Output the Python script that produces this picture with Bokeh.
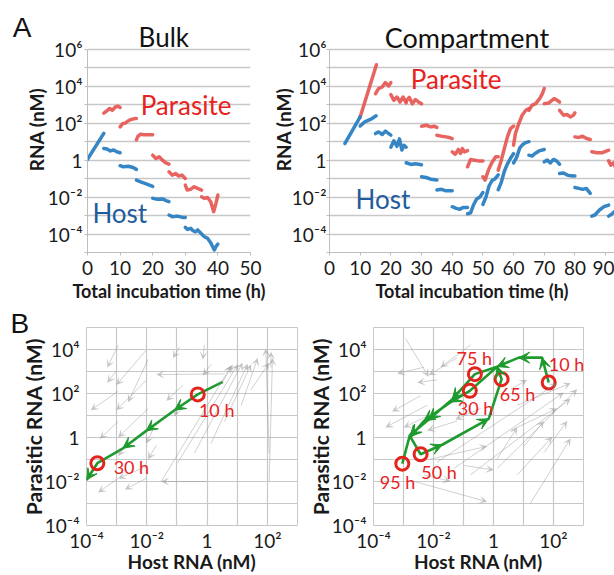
import math
from bokeh.plotting import figure
from bokeh.layouts import column, row
from bokeh.models import (Range1d, FixedTicker, CustomJSTickFormatter, Label, LogAxis,
                          Arrow, VeeHead, ColumnDataSource, Title)
from bokeh.embed import file_html
from bokeh.resources import INLINE

# ---------------------------------------------------------------- data
# Panel A (Bulk): time (h) and log10 RNA (nM), one list per transfer round
bulk_host_t = [[0, 5], [5, 6, 7, 8, 9, 10], [10, 11, 12.5, 14, 15], [15, 16.3, 17.8, 20],
               [20, 21.5, 23, 24.3, 25], [25, 26, 27.6, 29.1, 30],
               [30, 30.7, 31.7, 32.3, 33.2, 33.8, 34.8, 35.8, 36.8, 37.8, 38.9, 39.5, 40]]
bulk_host_log = [[0.05, 1.45], [0.63, 0.6, 0.5, 0.55, 0.45, 0.4], [-0.3, -0.36, -0.33, -0.4, -0.5],
                 [-1.08, -1.17, -1.27, -1.42], [-2.07, -2.12, -2.1, -2.2, -2.25],
                 [-2.97, -3.06, -3.03, -3.1, -3.1],
                 [-3.64, -3.75, -3.69, -3.82, -3.88, -3.78, -3.96, -4.14, -4.23, -4.47, -4.86, -4.65, -4.54]]
bulk_para_t = [[5, 5.8, 6.8, 7.6, 8.5, 9.4, 10], [10, 10.8, 11.7, 12.4, 13.3, 14.5, 15],
               [15, 15.5, 16.3, 17.3, 18.8, 20], [20, 21, 22, 23, 24, 25], [25, 26, 27, 28, 29, 30],
               [30, 30.6, 31.6, 32.7, 33.8, 35], [35, 35.8, 36.8, 37.8, 38.7, 39.4, 40]]
bulk_para_log = [[2.55, 2.65, 2.8, 2.7, 2.88, 2.92, 2.85], [1.8, 1.98, 2.02, 2.12, 2.2, 2.25, 2.25],
                 [1.1, 1.3, 1.4, 1.38, 1.38, 1.38], [0.27, 0.09, 0.18, 0.0, -0.15, -0.22],
                 [-0.63, -0.81, -0.72, -0.86, -0.81, -0.99], [-1.35, -1.62, -1.58, -1.44, -1.53, -1.62],
                 [-1.98, -2.07, -2.02, -2.25, -2.79, -2.34, -1.89]]

# Panel A (Compartment)
comp_host_t = [[5, 10], [10, 11.5, 13.5, 15.2], [15, 16, 17.2, 18.2, 19.3, 20],
               [20, 21, 22, 22.8, 23.6, 24.3, 25], [25, 26.5, 28, 30], [30, 31.5, 33, 35],
               [35, 36.5, 38, 40], [40, 41.3, 42.5, 43.5, 45], [45, 46, 47, 48, 49, 50],
               [50, 51, 52, 53, 54, 55], [55, 56, 57, 58, 59, 60], [60, 61, 62, 63, 64, 65],
               [65, 66, 67, 68.3, 70], [70, 71, 72, 73, 74, 75], [75, 76.3, 77.5, 78.7, 80],
               [80, 81.3, 82.5, 83.7, 85], [85.5, 86.5, 88, 89.5, 91], [91, 92.3, 94]]
comp_host_log = [[0.9, 2.34], [1.85, 2.07, 2.22, 2.4], [1.44, 1.53, 1.39, 1.57, 1.44, 1.35],
                 [0.7, 1.05, 0.75, 1.15, 0.55, 0.8, 0.7], [-0.14, -0.23, -0.2, -0.25],
                 [-0.9, -0.94, -1.03, -1.08], [-1.62, -1.58, -1.66, -1.66],
                 [-2.52, -2.61, -2.66, -2.56, -2.56], [-2.9, -2.85, -2.4, -2.1, -2.0, -1.75],
                 [-2.4, -2.0, -1.4, -1.1, -1.0, -0.8], [-1.6, -1.2, -0.6, -0.2, 0.1, 0.35],
                 [-0.15, 0.15, 0.65, 0.85, 0.95, 1.0], [0.27, 0.22, 0.36, 0.5, 0.58],
                 [-0.09, 0.0, -0.15, 0.04, -0.04, -0.22], [-0.72, -0.69, -0.81, -0.85, -0.86],
                 [-1.48, -1.53, -1.58, -1.53, -1.8], [-3.03, -2.97, -2.7, -2.52, -2.43],
                 [-3.03, -2.88, -2.61]]
comp_para_t = [[10, 15.3], [15, 16, 17.2, 18.2, 19.3, 20], [20, 21, 22, 23, 24, 25],
               [25, 26, 27, 28, 29, 30], [30, 31.5, 33, 34, 35], [35, 36.5, 38, 39, 40],
               [40, 41, 42, 42.7, 43.3, 44, 45], [45, 46, 47.3, 48.6, 50],
               [50, 50.7, 51.8, 52.9, 54.2, 55], [55, 56, 57, 58, 59, 60],
               [60, 60.6, 61.7, 62.8, 64, 65], [65, 66, 67.2, 68.5, 69.4, 70],
               [70, 71.5, 73.2, 74.2, 75], [75, 76.3, 77.4, 78.5, 79.5, 80],
               [80, 81.3, 82.5, 83.8, 85], [85.5, 87.2, 88.8, 91], [91, 91.7, 92.6, 93.4, 94]]
comp_para_log = [[2.34, 5.17], [3.6, 3.87, 3.96, 4.2, 4.02, 4.2], [3.55, 3.24, 3.42, 3.15, 3.42, 3.1],
                 [3.2, 3.4, 3.05, 3.28, 3.15, 3.05], [1.84, 1.89, 1.8, 1.84, 1.77],
                 [1.35, 1.3, 1.26, 1.23, 1.17], [0.45, 0.32, 0.58, 0.36, 0.63, 0.45, 0.52],
                 [-0.36, 0.04, 0.0, -0.04, -0.04], [-0.9, -1.08, -0.54, -0.14, 0.18, 0.18],
                 [-0.54, 0.0, 0.63, 1.26, 1.71, 1.84], [0.81, 1.44, 1.98, 2.43, 2.7, 2.79],
                 [2.7, 2.97, 3.06, 3.33, 3.6, 3.88], [3.06, 3.1, 3.33, 3.24, 3.15],
                 [2.7, 2.43, 2.47, 2.34, 2.43, 2.56], [1.26, 1.23, 1.3, 1.17, 1.12],
                 [0.45, 0.4, 0.4, 0.54], [-0.04, -0.27, -0.15, -0.45, -0.36]]

# Panel B (Bulk): trajectory, log10 host / parasite RNA
bulk_traj_host = [0.52, -0.31, -1.08, -2.02, -2.79, -3.64, -4.0]
bulk_traj_para = [2.53, 1.96, 1.24, 0.30, -0.49, -1.17, -1.93]
bulk_traj_mark = [False, True, False, False, False, True, False]
bulk_lab_text = ["10 h", "30 h"]
bulk_lab_host = [-0.27, -3.1]
bulk_lab_para = [1.25, -1.33]
# background vectors (log10 start -> end)
bulk_vec_h0 = [-2.95, -3.01, -2.02, -2.95, -2.02, -1.96, -2.95, -1.96, -0.91, -0.09, 0.58, 0.13,
               -0.80, -0.86, -1.79, -1.68, -2.68, -1.96, -2.95, -2.02, -0.03, -1.52, -0.97,
               -0.42, 0.13, 0.58, 1.13, 2.06, 2.06, 0.52, 1.46, 2.12]
bulk_vec_p0 = [4.19, 3.04, 3.97, 2.10, 2.60, 3.54, 0.73, 1.31, 4.12, 4.19, 2.89, 3.32,
               2.39, 1.74, 0.37, -0.35, -0.27, -1.29, -1.86, -1.86, -2.0, -2.0, -1.14,
               -0.71, -0.27, 0.73, 1.45, -2.0, -0.71, 2.53, 2.17, 3.18]
bulk_vec_h1 = [-3.31, -3.31, -3.01, -3.86, -3.01, -2.62, -3.56, -2.95, -1.13, -0.14, -1.68, -0.14,
               -1.35, -1.08, -2.02, -1.96, -2.95, -2.95, -3.61, -2.73, -1.52, 0.80, 1.02,
               1.18, 1.35, 1.46, 1.68, 2.17, 1.95, 0.85, 2.06, 2.12]
bulk_vec_p1 = [3.18, 2.49, 2.39, 1.24, 1.24, 1.60, -0.06, 0.01, 3.61, 3.54, 2.86, 2.82,
               1.67, 0.95, -0.27, -0.99, -0.85, -1.86, -2.50, -2.36, -2.0, 3.25, 3.32,
               3.40, 3.35, 3.32, 3.61, 3.61, 4.04, 3.32, 3.40, 3.90]

# Panel B (Compartment)
comp_traj_host = [1.84, 1.62, 0.84, 0.12, -0.79, -1.43, -2.32, -2.77, -2.43, -1.71, -0.16, 0.27,
                  0.12, -0.62, -1.38, -2.16, -2.79, -3.04]
comp_traj_para = [2.50, 3.63, 3.63, 3.22, 2.12, 1.61, 0.75, 0.03, -0.76, -0.33, 0.85, 2.65,
                  3.22, 2.88, 1.73, 0.82, 0.10, -1.19]
comp_traj_mark = [True, False, False, False, True, False, False, False, True, False, False, True,
                  False, True, False, False, False, True]
comp_lab_text = ["10 h", "75 h", "65 h", "30 h", "50 h", "95 h"]
comp_lab_host = [1.84, -1.23, 0.21, -1.19, -2.41, -3.79]
comp_lab_para = [3.34, 3.63, 1.97, 1.35, -1.55, -2.03]
comp_vec_h0 = [-2.93, -1.21, -2.32, -1.88, -0.77, -2.43, -2.21, -2.10, -0.43, -1.21, -1.88, -1.32,
               -0.77, 0.12, -2.66, -2.32, -0.99, -2.10, 1.23, 0.79, 0.57, 0.79, 0.57, 1.01,
               0.12, 1.68]
comp_vec_p0 = [4.49, 3.63, 3.19, 2.62, 4.20, 1.90, 1.47, 1.04, 1.32, 0.75, -1.12, -1.41,
               -1.70, -1.41, -1.99, -1.70, -1.27, -0.98, -2.99, -1.70, 0.32, 1.47, 2.19, -0.40,
               -0.98, -0.69]
comp_vec_h1 = [-2.16, -2.16, -3.21, -2.54, -1.77, -3.38, -3.60, -2.99, -1.27, -2.21, 2.12, 2.34,
               2.57, 2.79, -0.21, -1.43, 0.01, -0.21, 2.57, 1.96, 2.12, 2.57, 1.12, 1.68,
               0.79, 2.46]
comp_vec_p1 = [2.76, 2.83, 2.91, 2.50, 3.19, 1.18, 0.46, 0.46, 0.82, 0.32, 2.47, 2.04,
               1.76, 2.19, -2.92, -1.99, -1.48, -0.40, -0.04, 0.03, 1.32, 2.47, 2.62, 0.75,
               0.46, 0.75]

# ticks
bulk_xticks = [0, 10, 20, 30, 40, 50]
comp_xticks = [0, 10, 20, 30, 40, 50, 60, 70, 80, 90]
decades_A = list(range(-5, 7))
decades_B = list(range(-4, 6))

# ---------------------------------------------------------------- style
FONT = "Lato"
RED_LINE = "#E5534F"
BLUE_LINE = "#2B7EC2"
RED_TXT = "#E8221E"
BLUE_TXT = "#1F5C9E"
GREEN = "#1E9A2E"
GRID = "#c8c8c8"
INK = "#1a1a1a"

SUP_JS = """
const e = Math.round(Math.log10(tick));
if (e % 2 !== 0) { return ""; }
if (e === 0) { return "1"; }
const m = {"0":"\\u2070","1":"\\u00b9","2":"\\u00b2","3":"\\u00b3","4":"\\u2074","5":"\\u2075",
           "6":"\\u2076","7":"\\u2077","8":"\\u2078","9":"\\u2079","-":"\\u207b"};
let s = "";
for (const c of String(e)) { s += m[c]; }
return "10" + s;
"""

PANEL_A_JS = """return "A";"""


def pw(vals):
    return [10 ** v for v in vals]


def lab(p, x, y, text, size, color=INK, bold=False, align="left",
        baseline="middle", font=FONT):
    p.add_layout(Label(x=x, y=y, text=text, text_font=font, text_font_size=size,
                       text_color=color, text_font_style="bold" if bold else "normal",
                       text_align=align, text_baseline=baseline))


def style_axis(ax, size):
    ax.major_label_text_font = FONT
    ax.major_label_text_font_size = size
    ax.major_label_text_color = INK
    ax.minor_tick_line_color = None
    ax.axis_label_text_font = FONT
    ax.axis_label_text_font_style = "bold"
    ax.axis_label_text_color = INK


def fig_A(width, border_left, border_right, frame_w, xticks, ylabel, xlabel,
          ytick_standoff, ylabel_standoff):
    # frame is extended upward so the panel titles sit inside it
    p = figure(width=width, height=308, x_range=Range1d(0, frame_w / 3.1),
               y_range=Range1d(1e-5, 10 ** 8.32), y_axis_type="log",
               output_backend="svg", toolbar_location=None,
               min_border_left=border_left, min_border_right=border_right,
               min_border_top=6, min_border_bottom=56)
    p.outline_line_color = None
    p.xgrid.grid_line_color = None
    p.ygrid.grid_line_color = GRID
    p.ygrid.grid_line_width = 1.5
    p.xaxis.ticker = FixedTicker(ticks=xticks)
    p.yaxis.ticker = FixedTicker(ticks=[10.0 ** k for k in decades_A])
    p.yaxis.formatter = CustomJSTickFormatter(code=SUP_JS)
    p.yaxis.bounds = (1e-5, 1e6)
    for ax in (p.xaxis[0], p.yaxis[0]):
        style_axis(ax, "19px")
        ax.axis_line_color = "#bdbdbd"
        ax.major_tick_line_color = "#bdbdbd"
        ax.major_tick_in = 0
        ax.major_tick_out = 3
    p.xaxis.major_label_standoff = 5
    p.yaxis.major_label_standoff = ytick_standoff
    p.yaxis.axis_label = ylabel
    p.yaxis.axis_label_text_font_size = "19px"
    p.yaxis.axis_label_standoff = ylabel_standoff
    p.xaxis.axis_label = xlabel
    p.xaxis.axis_label_text_font_size = "18px"
    p.xaxis.axis_label_standoff = 2
    return p


def fig_B(width, border_left, border_right):
    p = figure(width=width, height=267, x_range=Range1d(1e-4, 1e3),
               y_range=Range1d(1e-4, 1e5), x_axis_type="log", y_axis_type="log",
               output_backend="svg", toolbar_location=None,
               min_border_left=border_left, min_border_right=border_right,
               min_border_top=19, min_border_bottom=42)
    p.outline_line_color = GRID
    p.grid.grid_line_color = GRID
    p.grid.grid_line_width = 1.2
    p.xaxis.ticker = FixedTicker(ticks=[10.0 ** k for k in range(-4, 4)])
    p.yaxis.ticker = FixedTicker(ticks=[10.0 ** k for k in decades_B])
    p.xaxis.formatter = CustomJSTickFormatter(code=SUP_JS)
    p.yaxis.formatter = CustomJSTickFormatter(code=SUP_JS)
    for ax in (p.xaxis[0], p.yaxis[0]):
        style_axis(ax, "19px")
        ax.axis_line_color = None
        ax.major_tick_line_color = None
        ax.major_tick_out = 0
        ax.major_tick_in = 0
    p.xaxis.major_label_standoff = 3
    p.yaxis.major_label_standoff = 7
    p.xaxis.axis_label = "Host RNA (nM)"
    p.xaxis.axis_label_text_font_size = "19px"
    p.xaxis.axis_label_standoff = -5
    p.yaxis.axis_label = "Parasitic RNA (nM)"
    p.yaxis.axis_label_text_font_size = "21px"
    p.yaxis.axis_label_standoff = -4
    return p


# ---------------------------------------------------------------- A: Bulk
a1 = fig_A(268, 87, 18, 163, bulk_xticks, "RNA (nM)", "Total incubation time (h)", 2, -3)
a1.x_range = Range1d(0, 50)
a1.multi_line(xs=bulk_para_t, ys=[pw(s) for s in bulk_para_log], line_color=RED_LINE,
              line_width=3.5, line_alpha=0.9, line_cap="round", line_join="round")
a1.multi_line(xs=bulk_host_t, ys=[pw(s) for s in bulk_host_log], line_color=BLUE_LINE,
              line_width=3.5, line_alpha=0.95, line_cap="round", line_join="round")
lab(a1, 23.4, 10 ** 6.65, "Bulk", "26px", "#111", align="center", baseline="alphabetic")
lab(a1, 16.3, 10 ** 2.97, "Parasite", "26px", RED_TXT)
lab(a1, 1.5, 10 ** -2.86, "Host", "26px", BLUE_TXT)
# panel letter "A" drawn as the single label of an extra, line-less left axis
letter_axis = LogAxis(ticker=FixedTicker(ticks=[10 ** 7.17]),
                      formatter=CustomJSTickFormatter(code=PANEL_A_JS),
                      axis_line_color=None, major_tick_line_color=None,
                      major_tick_out=0, major_tick_in=0,
                      minor_tick_line_color=None, major_label_standoff=-10,
                      major_label_text_font="Liberation Sans",
                      major_label_text_font_size="28px", major_label_text_color="#111")
a1.add_layout(letter_axis, "left")

# ---------------------------------------------------------------- A: Compartment
a2 = fig_A(346, 58, 0, 614 - 268 - 58, comp_xticks, "RNA (nM)", "Total incubation time (h)", 0, -6)
a2.multi_line(xs=comp_para_t, ys=[pw(s) for s in comp_para_log], line_color=RED_LINE,
              line_width=3.5, line_alpha=0.9, line_cap="round", line_join="round")
a2.multi_line(xs=comp_host_t, ys=[pw(s) for s in comp_host_log], line_color=BLUE_LINE,
              line_width=3.5, line_alpha=0.95, line_cap="round", line_join="round")
lab(a2, 44.8, 10 ** 6.65, "Compartment", "27px", "#111", align="center", baseline="alphabetic")
lab(a2, 26.5, 10 ** 4.38, "Parasite", "26px", RED_TXT)
lab(a2, 8.5, 10 ** -2.1, "Host", "26px", BLUE_TXT)


# ---------------------------------------------------------------- B panels
def draw_B(p, vh0, vp0, vh1, vp1, th, tp, tmark, ltext, lh, lp):
    src = ColumnDataSource(dict(x0=pw(vh0), y0=pw(vp0), x1=pw(vh1), y1=pw(vp1)))
    p.add_layout(Arrow(source=src, x_start="x0", y_start="y0", x_end="x1", y_end="y1",
                       line_color="#8a8a8a", line_alpha=0.4, line_width=1,
                       end=VeeHead(size=8, fill_color="#8a8a8a", fill_alpha=0.5,
                                   line_color=None)))
    xs, ys = pw(th), pw(tp)
    p.line(xs, ys, line_color=GREEN, line_width=2.6)
    hx0, hy0, hx1, hy1 = [], [], [], []
    for i in range(1, len(xs)):
        if not tmark[i]:
            hx0.append(xs[i - 1]); hy0.append(ys[i - 1]); hx1.append(xs[i]); hy1.append(ys[i])
    hsrc = ColumnDataSource(dict(x0=hx0, y0=hy0, x1=hx1, y1=hy1))
    p.add_layout(Arrow(source=hsrc, x_start="x0", y_start="y0", x_end="x1", y_end="y1",
                       line_color=None,
                       end=VeeHead(size=11, fill_color=GREEN, line_color=GREEN, line_width=1)))
    cx = [x for x, m in zip(xs, tmark) if m]
    cy = [y for y, m in zip(ys, tmark) if m]
    p.scatter(cx, cy, marker="circle", size=13, fill_color=None,
              line_color="#E3241C", line_width=3)
    for t, h, q in zip(ltext, lh, lp):
        lab(p, 10 ** h, 10 ** q, t, "18px", RED_TXT)


b1 = fig_B(300, 86, 3)
draw_B(b1, bulk_vec_h0, bulk_vec_p0, bulk_vec_h1, bulk_vec_p1, bulk_traj_host, bulk_traj_para,
       bulk_traj_mark, bulk_lab_text, bulk_lab_host, bulk_lab_para)
b1.title = Title(text="B", align="left", offset=-76, standoff=-22,
                 text_font="Liberation Sans", text_font_size="28px",
                 text_font_style="normal", text_color="#111")

b2 = fig_B(314, 73, 31)
draw_B(b2, comp_vec_h0, comp_vec_p0, comp_vec_h1, comp_vec_p1, comp_traj_host, comp_traj_para,
       comp_traj_mark, comp_lab_text, comp_lab_host, comp_lab_para)

layout = column(row(a1, a2), row(b1, b2))
open("out.html", "w", encoding="utf-8").write(file_html(layout, INLINE))
